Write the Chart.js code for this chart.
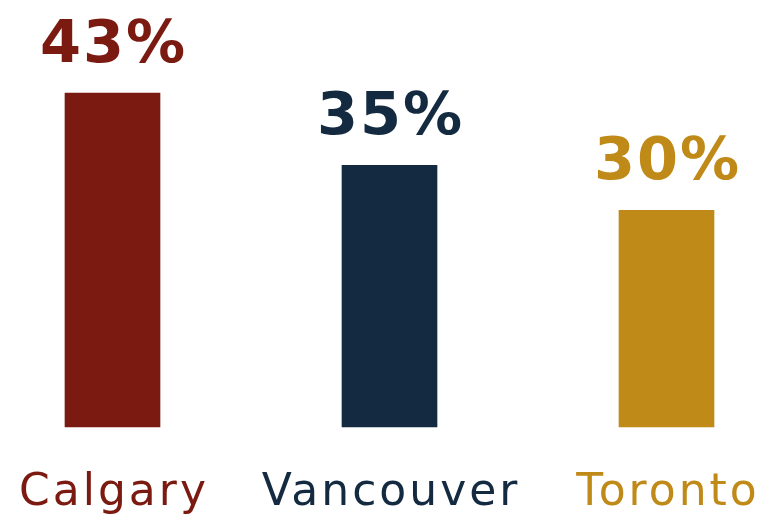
<!DOCTYPE html>
<html>
<head>
<meta charset="utf-8">
<script src="https://cdn.jsdelivr.net/npm/chart.js@4/dist/chart.umd.min.js"></script>
<style>
html,body{margin:0;padding:0;background:#fff;}
#wrap{width:764px;height:520px;}
</style>
</head>
<body>
<div id="wrap"><canvas id="chart"></canvas></div>
<script>
const cities = ["Calgary","Vancouver","Toronto"];
const shares = [43,35,30];
const colors = ["#7a1a10","#142a40","#c08a18"];
const yMin = 6;

// percent labels above the bars, city names under the axis
const barText = {
id:"barText",
afterDatasetsDraw(chart){
const ctx=chart.ctx;
const meta=chart.getDatasetMeta(0);
const xs=chart.scales.x;
ctx.save();
ctx.textAlign="center";
ctx.textBaseline="alphabetic";
meta.data.forEach((bar,i)=>{
ctx.fillStyle=colors[i];
ctx.font="bold 59px 'DejaVu Sans'";
ctx.letterSpacing="2px";
ctx.fillText(shares[i]+"%",bar.x+1,bar.y-31);
ctx.font="44px 'DejaVu Sans'";
ctx.letterSpacing="3px";
ctx.fillText(xs.getLabelForValue(i),xs.getPixelForValue(i)+1.5,505);
});
ctx.restore();
}
};

new Chart(document.getElementById("chart"),{
type:"bar",
data:{
labels:cities,
datasets:[{
data:shares,
backgroundColor:colors,
barThickness:95,
base:yMin,
clip:false
}]
},
options:{
responsive:true,
maintainAspectRatio:false,
animation:false,
layout:{padding:{left:112.5,right:97.5,top:93,bottom:93}},
plugins:{legend:{display:false},tooltip:{enabled:false}},
scales:{
x:{display:false,offset:false},
y:{display:false,min:yMin,max:43}
}
},
plugins:[barText]
});
</script>
</body>
</html>
